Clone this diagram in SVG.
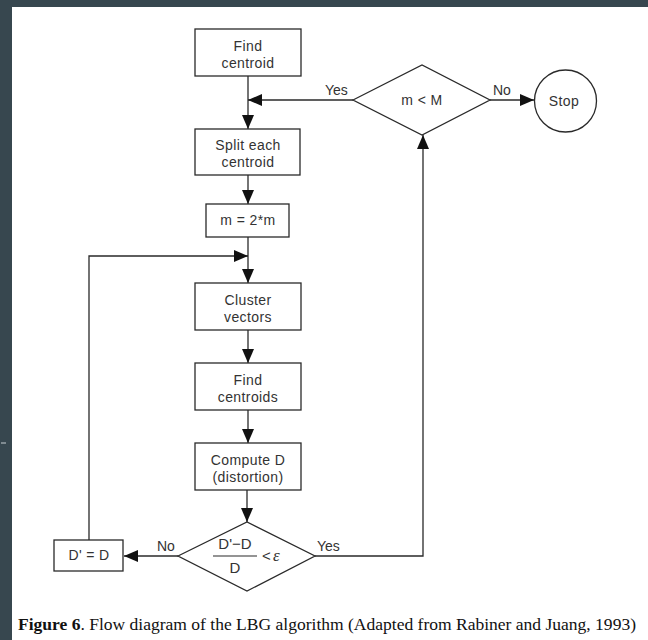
<svg xmlns="http://www.w3.org/2000/svg" width="648" height="640" viewBox="0 0 648 640">
  <style>
    .node { fill: #ffffff; stroke: #2a2a2a; stroke-width: 1.3; }
    .edge { fill: none; stroke: #2a2a2a; stroke-width: 1.3; }
    .lbl { font-family: "Liberation Sans", Arial, sans-serif; font-size: 14px; letter-spacing: 0.4px; fill: #333333; text-anchor: middle; }
    .elbl { font-family: "Liberation Sans", Arial, sans-serif; font-size: 14px; fill: #333333; }
    .cap { font-family: "Liberation Serif", "Times New Roman", serif; font-size: 17.5px; fill: #111111; }
  </style>
  <defs>
    <marker id="arrow" viewBox="0 0 14 12" refX="14" refY="6" markerWidth="14" markerHeight="12" markerUnits="userSpaceOnUse" orient="auto">
      <path d="M0,0 L14,6 L0,12 Z" fill="#111111"/>
    </marker>
  </defs>

  <!-- page frame -->
  <rect x="0" y="0" width="648" height="640" fill="#37474f"/>
  <rect x="12" y="7" width="636" height="633" fill="#ffffff"/>
  <line x1="1" y1="443" x2="6" y2="443" stroke="#c8cfd3" stroke-width="1"/>

  <!-- connectors -->
  <g id="connectors">
    <line class="edge" x1="248" y1="76" x2="248" y2="129" marker-end="url(#arrow)"/>
    <line class="edge" x1="353" y1="100" x2="248" y2="100" marker-end="url(#arrow)"/>
    <line class="edge" x1="490" y1="100" x2="534" y2="100" marker-end="url(#arrow)"/>
    <line class="edge" x1="248" y1="175" x2="248" y2="204" marker-end="url(#arrow)"/>
    <line class="edge" x1="248" y1="237" x2="248" y2="283" marker-end="url(#arrow)"/>
    <polyline class="edge" points="89,540 89,256 248,256" marker-end="url(#arrow)"/>
    <line class="edge" x1="248" y1="330" x2="248" y2="363" marker-end="url(#arrow)"/>
    <line class="edge" x1="248" y1="410" x2="248" y2="443" marker-end="url(#arrow)"/>
    <line class="edge" x1="247" y1="490" x2="247" y2="522" marker-end="url(#arrow)"/>
    <line class="edge" x1="178" y1="556" x2="124" y2="556" marker-end="url(#arrow)"/>
    <polyline class="edge" points="315,556 423,556 423,135" marker-end="url(#arrow)"/>
    <text class="elbl" x="325" y="95">Yes</text>
    <text class="elbl" x="493" y="95">No</text>
    <text class="elbl" x="157" y="551">No</text>
    <text class="elbl" x="317" y="551">Yes</text>
  </g>

  <!-- nodes -->
  <g id="find-centroid">
    <rect class="node" x="195" y="29" width="106" height="47"/>
    <text class="lbl" x="248" y="51">Find</text>
    <text class="lbl" x="248" y="68">centroid</text>
  </g>

  <g id="test-m">
    <polygon class="node" points="353,100 422,65 490,100 422,135"/>
    <text class="lbl" x="422" y="105">m &lt; M</text>
  </g>

  <g id="stop">
    <circle class="node" cx="565.5" cy="101" r="31"/>
    <text class="lbl" x="564" y="106">Stop</text>
  </g>

  <g id="split">
    <rect class="node" x="195" y="129" width="105" height="46"/>
    <text class="lbl" x="248" y="150">Split each</text>
    <text class="lbl" x="248" y="167">centroid</text>
  </g>

  <g id="double-m">
    <rect class="node" x="206" y="204" width="83" height="33"/>
    <text class="lbl" x="248" y="225">m = 2*m</text>
  </g>

  <g id="cluster">
    <rect class="node" x="195" y="283" width="106" height="47"/>
    <text class="lbl" x="248" y="305">Cluster</text>
    <text class="lbl" x="248" y="322">vectors</text>
  </g>

  <g id="find-centroids">
    <rect class="node" x="195" y="363" width="106" height="47"/>
    <text class="lbl" x="248" y="385">Find</text>
    <text class="lbl" x="248" y="402">centroids</text>
  </g>

  <g id="compute-d">
    <rect class="node" x="195" y="443" width="106" height="47"/>
    <text class="lbl" x="248" y="465">Compute D</text>
    <text class="lbl" x="248" y="482">(distortion)</text>
  </g>

  <g id="test-distortion">
    <polygon class="node" points="178,556 247,522 315,556 247,591"/>
    <text class="lbl" x="235" y="549" style="font-size:15px;letter-spacing:0">D'−D</text>
    <line x1="213" y1="556" x2="257" y2="556" stroke="#2a2a2a" stroke-width="1.1"/>
    <text class="lbl" x="235" y="573" style="font-size:15px">D</text>
    <text class="elbl" x="262" y="561" style="font-size:15px">&lt;</text>
    <text x="273" y="561" style="font-family:'Liberation Serif','Times New Roman',serif;font-style:italic;font-size:17px;fill:#333333">ε</text>
  </g>

  <g id="d-prime">
    <rect class="node" x="54" y="540" width="69" height="31"/>
    <text class="lbl" x="89" y="560">D' = D</text>
  </g>

  <!-- caption -->
  <text class="cap" x="18" y="630" textLength="618" lengthAdjust="spacingAndGlyphs"><tspan font-weight="bold">Figure 6</tspan>. Flow diagram of the LBG algorithm (Adapted from Rabiner and Juang, 1993)</text>
</svg>
